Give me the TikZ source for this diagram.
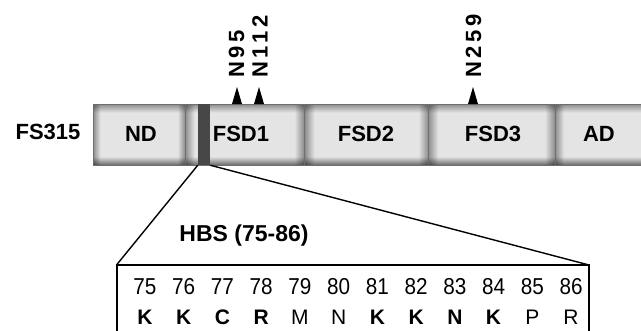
\documentclass[tikz,border=0pt]{standalone}
\usepackage{fontspec}
\setmainfont{Liberation Sans}
\newfontfamily\lsfont[LetterSpace=17]{Liberation Sans}
\usetikzlibrary{calc}
\definecolor{edgeT}{HTML}{8C8C8C}
\definecolor{edgeB}{HTML}{6A6A6A}
\definecolor{midg}{HTML}{E4E4E4}
\definecolor{hedge}{HTML}{9C9C9C}
\definecolor{segline}{HTML}{6E6E6E}
\definecolor{stripe}{HTML}{474747}
\pgfdeclareverticalshading{pillowv}{100bp}{color(0bp)=(edgeB); color(25bp)=(edgeB); color(32bp)=(midg); color(68bp)=(midg); color(75bp)=(edgeT); color(100bp)=(edgeT)}
\pgfdeclarehorizontalshading{pillowh}{100bp}{color(0bp)=(hedge); color(25bp)=(hedge); color(29bp)=(white); color(71bp)=(white); color(75bp)=(hedge); color(100bp)=(hedge)}
\tikzset{
  seg/.style={draw=segline, line width=0.6pt, minimum height=61pt, inner sep=0pt,
    shading=pillowv,
    path picture={\shade[shading=pillowh, blend mode=multiply]
      (path picture bounding box.south west) rectangle (path picture bounding box.north east);}},
  lab/.style={font=\bfseries\fontsize{22}{26}\selectfont, inner sep=0pt},
  hlab/.style={font=\bfseries\fontsize{23}{26}\selectfont, inner sep=0pt},
  num/.style={font=\fontsize{23}{26}\selectfont, xscale=0.9, inner sep=0pt},
  aab/.style={font=\bfseries\fontsize{21}{24}\selectfont, inner sep=0pt},
  aar/.style={font=\fontsize{21}{24}\selectfont, inner sep=0pt},
  glyc/.style={font=\lsfont\bfseries\fontsize{22}{24}\selectfont, rotate=90, anchor=west, inner sep=0pt},
  conn/.style={line width=1.4pt, black},
  boxline/.style={line width=2pt, black},
}
\begin{document}
\begin{tikzpicture}[x=1pt,y=-1pt]
\useasboundingbox (0,0) rectangle (641,330);
\clip (0,0) rectangle (641,330);
\fill[white] (0,0) rectangle (641,330);
% domain bar
\node[seg, minimum width=92pt] (nd) at (139,134.5) {};
\node[seg, minimum width=119pt] (fsd1) at (244.5,134.5) {};
\node[seg, minimum width=124pt] (fsd2) at (366.5,134.5) {};
\node[seg, minimum width=127pt] (fsd3) at (491.5,134.5) {};
\node[seg, minimum width=110pt] (ad) at (610,134.5) {};
\node[fill=stripe, minimum width=12pt, minimum height=61pt, inner sep=0pt] (hbs) at (204,134.5) {};
% labels
\node[lab] (fs) at (48,132) {FS315};
\node[lab] (ndl) at (141,134) {ND};
\node[lab] (fsd1l) at (241,134) {FSD1};
\node[lab] (fsd2l) at (366,134) {FSD2};
\node[lab] (fsd3l) at (493,134) {FSD3};
\node[lab] (adl) at (599,134) {AD};
% glycosylation sites
\fill (232,104) -- (237,87) -- (242,104) -- cycle;
\fill (254,104) -- (259,87) -- (264,104) -- cycle;
\fill (468,104) -- (473,87) -- (478,104) -- cycle;
\node[glyc] (n95) at (236.5,78) {N95};
\node[glyc] (n112) at (260,78) {N112};
\node[glyc] (n259) at (473.5,78) {N259};
% zoom box
\coordinate (bxtl) at (116.5,265);
\coordinate (bxtr) at (589,265);
\coordinate (bxbl) at (116.5,345);
\coordinate (bxbr) at (589,345);
\draw[conn] (hbs.south west) -- (bxtl);
\draw[conn] (hbs.south east) -- (bxtr);
\draw[boxline] (bxbl) -- (bxtl) -- (bxtr) -- (bxbr);
\node[hlab] (hbsl) at (244,236) {HBS (75-86)};
% residues
\foreach \n [count=\i from 0] in {75,...,86} {
  \node[num] (r\n) at (145+38.73*\i,287) {\n};
}
\foreach \a/\s [count=\i from 0] in {K/aab,K/aab,C/aab,R/aab,M/aar,N/aar,K/aab,K/aab,N/aab,K/aab,P/aar,R/aar} {
  \node[\s] (aa\i) at (145+38.73*\i,317) {\a};
}
\end{tikzpicture}
\end{document}
